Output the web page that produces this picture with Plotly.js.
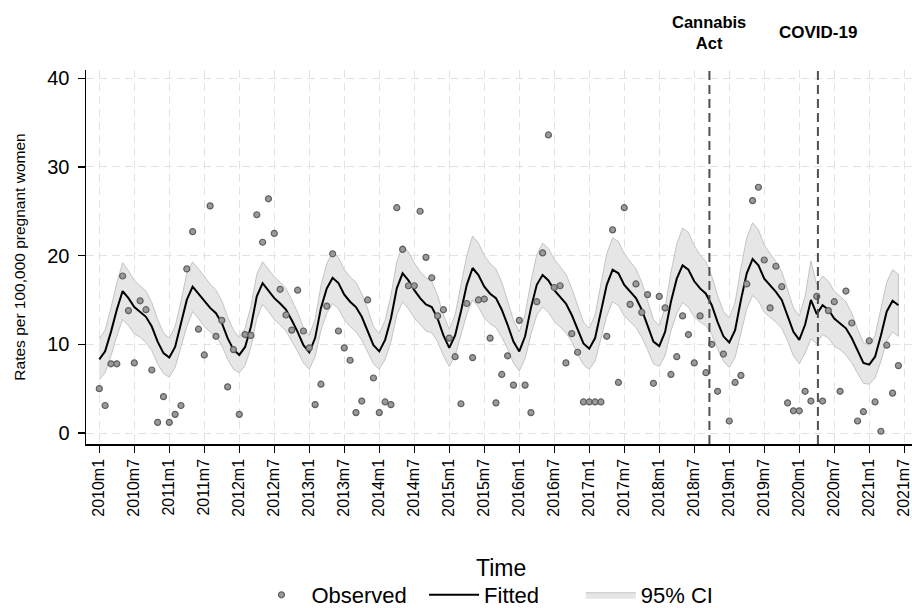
<!DOCTYPE html>
<html><head><meta charset="utf-8">
<script src="https://cdn.plot.ly/plotly-3.0.1.min.js"></script>
<style>html,body{margin:0;padding:0;background:#fff}#chart{width:912px;height:608px}</style>
</head><body><div id="chart"></div>
<script>
// Month index 0 = 2010m1
const tickLabels = ["2010m1","2010m7","2011m1","2011m7","2012m1","2012m7","2013m1","2013m7",
  "2014m1","2014m7","2015m1","2015m7","2016m1","2016m7","2017m1","2017m7","2018m1","2018m7",
  "2019m1","2019m7","2020m1","2020m7","2021m1","2021m7"];
const tickMonths = [0,6,12,18,24,30,36,42,48,54,60,66,72,78,84,90,96,102,108,114,120,126,132,138];

const observed = [5.0,3.1,7.8,7.8,17.7,13.8,7.9,14.9,13.9,7.1,
  1.2,4.1,1.2,2.1,3.1,18.5,22.7,11.7,8.8,25.6,
  10.9,12.7,5.2,9.4,2.1,11.1,11.0,24.6,21.5,26.4,
  22.5,16.2,13.3,11.6,16.1,11.5,9.6,3.2,5.5,14.3,
  20.2,11.5,9.6,8.2,2.3,3.6,15.0,6.2,2.3,3.5,
  3.2,25.4,20.7,16.6,16.6,25.0,19.8,17.5,13.2,13.9,
  10.7,8.6,3.3,14.6,8.5,15.0,15.1,10.7,3.4,6.6,
  8.7,5.4,12.7,5.4,2.3,14.8,20.3,33.6,16.4,16.6,
  7.9,11.2,9.1,3.5,3.5,3.5,3.5,10.9,22.9,5.7,
  25.4,14.5,16.8,13.6,15.6,5.6,15.4,14.1,6.6,8.6,
  13.2,11.1,7.9,13.2,6.8,10.0,4.7,8.9,1.35,5.7,
  6.5,16.8,26.2,27.7,19.5,14.1,18.8,16.5,3.4,2.5,
  2.5,4.7,3.6,15.4,3.6,13.8,14.8,4.7,16.0,12.4,
  1.35,2.4,10.4,3.5,0.2,9.9,4.5,7.6];

const fitted = [8.3,9.2,11.4,13.9,16.0,15.2,14.2,13.7,13.1,12.0,
  10.3,9.0,8.5,9.7,12.2,15.0,16.5,15.7,14.8,14.1,
  13.5,12.4,10.7,9.4,8.8,9.7,12.0,15.4,16.9,16.1,
  15.2,14.6,13.9,12.7,11.4,9.9,9.1,10.7,14.1,16.3,
  17.5,16.9,15.6,14.8,14.2,13.1,11.6,9.9,9.2,10.5,
  12.9,16.3,18.0,17.2,16.1,15.2,14.5,14.2,12.9,11.0,
  9.6,11.0,13.7,16.7,18.6,17.8,16.5,15.7,15.2,13.9,
  12.2,10.3,9.2,10.9,14.1,16.7,17.8,17.2,16.1,15.4,
  14.6,13.3,11.6,10.1,9.5,10.7,13.7,16.7,18.4,18.0,
  16.7,15.9,15.2,13.9,12.2,10.3,9.8,11.4,14.8,17.4,
  18.9,18.4,17.1,16.3,15.7,14.4,12.5,10.9,10.2,11.6,
  15.0,18.0,19.6,18.9,17.4,16.7,15.9,15.0,13.3,11.4,
  10.5,12.2,15.0,13.4,14.4,13.9,12.9,12.4,11.8,10.7,
  9.2,7.9,7.7,8.6,11.0,13.7,14.9,14.4];

const ciLower = [6.0,6.8,8.7,10.9,12.8,12.1,11.2,10.8,10.2,9.3,
  7.8,6.7,6.3,7.4,9.6,12.0,13.7,12.9,12.0,11.4,
  10.9,9.9,8.3,7.2,6.8,7.6,9.7,12.9,14.5,13.7,
  12.8,12.2,11.5,10.4,9.2,7.9,7.2,8.6,11.6,13.5,
  14.6,14.0,12.8,12.0,11.4,10.5,9.2,7.8,7.2,8.3,
  10.3,13.3,14.8,14.0,13.0,12.2,11.5,11.3,10.3,8.7,
  7.5,8.7,10.9,13.4,15.0,14.2,13.0,12.3,11.9,10.8,
  9.5,7.9,7.0,8.4,11.1,13.3,14.2,13.6,12.6,12.0,
  11.3,10.3,8.9,7.7,7.2,8.1,10.6,13.2,14.8,14.4,
  13.2,12.5,11.9,10.8,9.4,7.8,7.5,8.7,11.5,13.5,
  14.7,14.2,13.1,12.5,12.1,11.1,9.5,8.1,7.4,8.5,
  11.4,14.0,15.5,14.9,13.6,13.1,12.5,11.8,10.4,8.7,
  7.8,9.0,10.6,10.1,11.1,10.7,9.8,9.4,8.8,7.9,
  6.7,5.6,5.5,6.2,8.1,10.4,11.4,10.9];

const ciUpper = [10.6,11.6,14.1,16.9,19.2,18.3,17.2,16.6,16.0,14.7,
  12.8,11.3,10.7,12.0,14.8,18.0,19.3,18.5,17.6,16.8,
  16.1,14.9,13.1,11.6,10.8,11.8,14.3,17.9,19.3,18.5,
  17.6,17.0,16.3,15.0,13.6,11.9,11.0,12.8,16.6,19.1,
  20.4,19.8,18.4,17.6,17.0,15.7,14.0,12.0,11.2,12.7,
  15.5,19.3,21.2,20.4,19.2,18.2,17.5,17.1,15.5,13.3,
  11.7,13.3,16.5,20.0,22.2,21.4,20.0,19.1,18.5,17.0,
  14.9,12.7,11.4,13.4,17.1,20.1,21.4,20.8,19.6,18.8,
  17.9,16.3,14.3,12.5,11.8,13.3,16.8,20.2,22.0,21.6,
  20.2,19.3,18.5,17.0,15.0,12.8,12.1,14.1,18.1,21.3,
  23.1,22.6,21.1,20.1,19.3,17.7,15.5,13.7,13.0,14.7,
  18.6,22.0,23.7,22.9,21.2,20.3,19.3,18.2,16.2,14.1,
  13.2,15.4,19.4,16.7,17.7,17.1,16.0,15.4,14.8,13.5,
  11.7,10.2,9.9,11.0,13.9,17.0,18.4,17.9];

const eventMonths = [104.6, 123.2];
const eventLabels = ["<b>Cannabis</b><br><b>Act</b>", "<b>COVID-19</b>"];
const seriesNames = ["Observed", "Fitted", "95% CI"];
const xTitle = "Time";
const yTitle = "Rates per 100,000 pregnant women";

const months = observed.map((_, i) => i);
const FONT = "Liberation Sans, Arial, Helvetica, sans-serif";
const NB = "\u00a0";

const ciTrace = {
  x: months.concat(months.slice().reverse()),
  y: ciUpper.concat(ciLower.slice().reverse()),
  type: "scatter", mode: "lines", fill: "toself",
  fillcolor: "rgba(230,230,230,1)",
  line: {color: "#c4c4c4", width: 1},
  name: seriesNames[2], legendrank: 3, hoverinfo: "skip"
};
const fitTrace = {
  x: months, y: fitted, type: "scatter", mode: "lines",
  line: {color: "#000000", width: 2},
  name: seriesNames[1] + NB.repeat(6), legendrank: 2
};
const obsTrace = {
  x: months, y: observed, type: "scatter", mode: "markers",
  marker: {size: 6, color: "#9a9a9a", line: {color: "#5f5f5f", width: 1.2}},
  name: seriesNames[0] + NB.repeat(2), legendrank: 1
};

const shapes = eventMonths.map(m => ({
  type: "line", xref: "x", yref: "paper", x0: m, x1: m, y0: 0, y1: 1,
  line: {color: "#505050", width: 2, dash: "9px,5px"}, layer: "above"
}));

const annotations = [
  {text: eventLabels[0], x: eventMonths[0], xref: "x", yref: "paper", y: 1.1, yanchor: "middle", xanchor: "center", showarrow: false, font: {family: FONT, size: 16.5, color: "#000"}},
  {text: eventLabels[1], x: eventMonths[1], xref: "x", yref: "paper", y: 1.1, yanchor: "middle", xanchor: "center", showarrow: false, font: {family: FONT, size: 17, color: "#000"}},
  {text: xTitle, xref: "paper", x: 0.503, yref: "paper", y: -0.3305, xanchor: "center", yanchor: "middle", showarrow: false, font: {family: FONT, size: 23, color: "#000"}}
];

const layout = {
  width: 912, height: 608,
  margin: {l: 86, r: 0, t: 70, b: 164, pad: 0},
  paper_bgcolor: "#fff", plot_bgcolor: "#fff",
  font: {family: FONT, color: "#000"},
  showlegend: true,
  legend: {orientation: "h", xref: "paper", x: 0.483, xanchor: "center", yref: "container", y: 0.0214, yanchor: "middle",
    font: {family: FONT, size: 22, color: "#000"}, bgcolor: "rgba(0,0,0,0)", itemwidth: 50},
  xaxis: {
    range: [-2.28, 139.33], tickmode: "array", tickvals: tickMonths, ticktext: tickLabels,
    tickangle: -90, tickfont: {family: FONT, size: 16, color: "#000"}, ticklabeloverflow: "allow",
    ticks: "outside", ticklen: 7, tickwidth: 1.3, tickcolor: "#000",
    showline: true, linecolor: "#000", linewidth: 1.5,
    showgrid: true, gridcolor: "#e3e3e3", gridwidth: 1, griddash: "8px,5px",
    zeroline: false, automargin: false
  },
  yaxis: {
    range: [-1.24, 40.92], tickvals: [0,10,20,30,40],
    tickfont: {family: FONT, size: 20, color: "#000"}, ticklabelstandoff: 4,
    ticks: "outside", ticklen: 7, tickwidth: 1.3, tickcolor: "#000",
    showline: true, linecolor: "#000", linewidth: 1.5,
    showgrid: true, gridcolor: "#e3e3e3", gridwidth: 1, griddash: "8px,5px",
    zeroline: false, automargin: true,
    title: {text: yTitle, font: {family: FONT, size: 15.5, color: "#000"}, standoff: 18}
  },
  shapes: shapes,
  annotations: annotations
};

Plotly.newPlot("chart", [ciTrace, fitTrace, obsTrace], layout, {displayModeBar: false, staticPlot: true});
</script>
</body></html>
